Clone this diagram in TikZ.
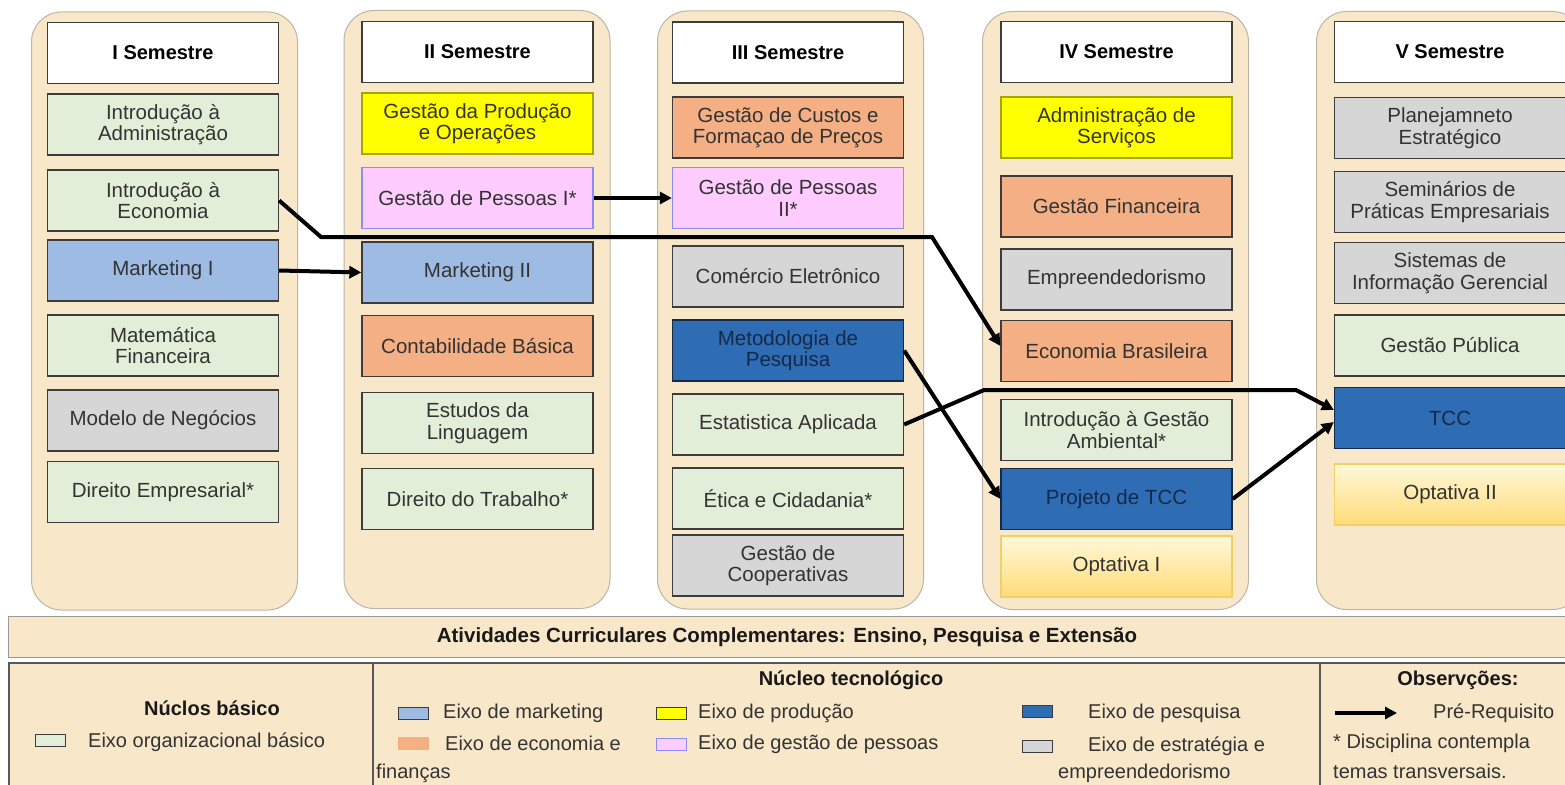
\documentclass[tikz,border=0pt]{standalone}
\usepackage{fontspec}
\setmainfont{Liberation Sans}
\usetikzlibrary{arrows.meta,calc}
\definecolor{beige}{HTML}{F8E8C9}
\definecolor{colborder}{HTML}{BDB5A6}
\definecolor{boxborder}{HTML}{3C3C3C}
\definecolor{txt}{HTML}{333333}
\definecolor{cgreen}{HTML}{E3EED9}
\definecolor{cblue}{HTML}{9DBBE3}
\definecolor{cyellow}{HTML}{FFFF00}
\definecolor{corange}{HTML}{F4B084}
\definecolor{cpink}{HTML}{FFCCFF}
\definecolor{cgray}{HTML}{D6D6D6}
\definecolor{cdblue}{HTML}{2E6DB4}
\definecolor{navy}{HTML}{15294A}
\definecolor{optop}{HTML}{FFF8D8}
\definecolor{opbot}{HTML}{FFDC7A}
\definecolor{opborder}{HTML}{F0D060}
\begin{document}
\begin{tikzpicture}[x=1pt,y=-1pt,
  col/.style={draw=colborder, line width=1pt, fill=beige, rounded corners=30pt, minimum width=266pt, minimum height=598pt, inner sep=0pt},
  cbox/.style={draw=boxborder, line width=1.3pt, minimum width=231pt, minimum height=61pt, inner sep=0pt, align=center, font=\fontsize{20.5}{21.5}\selectfont, text=txt},
  hdr/.style={cbox, fill=white, font=\fontsize{20}{21}\selectfont\bfseries, text=black},
  gr/.style={cbox, fill=cgreen},
  bl/.style={cbox, fill=cblue},
  ye/.style={cbox, fill=cyellow, draw=black!35!cyellow},
  orr/.style={cbox, fill=corange},
  pk/.style={cbox, fill=cpink, draw=black!10!blue!45},
  gy/.style={cbox, fill=cgray},
  db/.style={cbox, fill=cdblue, draw=navy, text=navy},
  op/.style={cbox, top color=optop, bottom color=opbot, draw=opborder},
  pre/.style={line width=4pt, -{Triangle[length=12pt,width=12pt]}, line join=miter},
  leg/.style={font=\fontsize{20}{22}\selectfont, text=txt, inner sep=0pt},
  legb/.style={font=\fontsize{20}{22}\selectfont\bfseries, text=black!90, inner sep=0pt},
  sw/.style={draw=boxborder, line width=1pt, minimum width=30pt, minimum height=12pt, inner sep=0pt}
]
\useasboundingbox (0,0) rectangle (1565,784);
\fill[white] (0,0) rectangle (1565,784);

% columns
\node[col] (c1) at (164.5,311) {};
\node[col] (c2) at (477,309.5) {};
\node[col] (c3) at (790.5,310) {};
\node[col] (c4) at (1115.5,310.5) {};
\node[col] (c5) at (1449.5,310.5) {};

% column I
\node[hdr] (h1) at (163,53) {I Semestre};
\node[gr] (ia) at (163,124.5) {Introdução à\\Administração};
\node[gr] (ie) at (163,200.5) {Introdução à\\Economia};
\node[bl] (m1) at (163,270.5) {Marketing I};
\node[gr] (mf) at (163,345.5) {Matemática\\Financeira};
\node[gy] (mn) at (163,420.5) {Modelo de Negócios};
\node[gr] (de) at (163,492) {Direito Empresarial*};

% column II
\node[hdr] (h2) at (477.5,52) {II Semestre};
\node[ye] (gpo) at (477.5,123.5) {Gestão da Produção\\e Operações};
\node[pk] (gp1) at (477.5,198) {Gestão de Pessoas I*};
\node[bl] (m2) at (477.5,272.5) {Marketing II};
\node[orr] (cb) at (477.5,346) {Contabilidade Básica};
\node[gr] (el) at (477.5,423) {Estudos da\\Linguagem};
\node[gr] (dt) at (477.5,499) {Direito do Trabalho*};

% column III
\node[hdr] (h3) at (788,52.5) {III Semestre};
\node[orr] (gc) at (788,127.5) {Gestão de Custos e\\Formaçao de Preços};
\node[pk] (gp2) at (788,198) {Gestão de Pessoas\\II*};
\node[gy] (ce) at (788,276.5) {Comércio Eletrônico};
\node[db] (met) at (788,350.5) {Metodologia de\\Pesquisa};
\node[gr] (est) at (788,424.5) {Estatistica Aplicada};
\node[gr] (ec) at (788,498.5) {Ética e Cidadania*};
\node[gy] (gco) at (788,565.5) {Gestão de\\Cooperativas};

% column IV
\node[hdr] (h4) at (1116.5,52) {IV Semestre};
\node[ye] (as) at (1116.5,127.5) {Administração de\\Serviços};
\node[orr] (gf) at (1116.5,206.5) {Gestão Financeira};
\node[gy] (emp) at (1116.5,279.5) {Empreendedorismo};
\node[orr] (eb) at (1116.5,351) {Economia Brasileira};
\node[gr] (iga) at (1116.5,430) {Introdução à Gestão\\Ambiental*};
\node[db] (ptcc) at (1116.5,499) {Projeto de TCC};
\node[op] (op1) at (1116.5,566.5) {Optativa I};

% column V
\node[hdr] (h5) at (1450,52) {V Semestre};
\node[gy] (pe) at (1450,128) {Planejamneto\\Estratégico};
\node[gy] (spe) at (1450,202) {Seminários de\\Práticas Empresariais};
\node[gy] (sig) at (1450,273) {Sistemas de\\Informação Gerencial};
\node[gr] (gpu) at (1450,345.5) {Gestão Pública};
\node[db] (tcc) at (1450,418) {TCC};
\node[op] (op2) at (1450,494.5) {Optativa II};

% prerequisite arrows
\draw[pre] (ie.east) -- (321,237) -- (932,237) -- ($(eb.west)+(0,-5)$);
\draw[pre] (m1.east) -- (m2.west);
\draw[pre] (gp1.east) -- (gp2.west);
\draw[pre] (met.east) -- (ptcc.west);
\draw[pre] (est.east) -- (984,390) -- (1296,390) -- ($(tcc.west)+(0,-8)$);
\draw[pre] (ptcc.east) -- ($(tcc.west)+(0,4)$);

% band
\node[draw=black!40, line width=1pt, fill=beige, minimum width=1572pt, minimum height=41pt, inner sep=0pt, anchor=north west] (band) at (8,616) {};
\node[legb, font=\fontsize{20.5}{22}\selectfont\bfseries] (bandt) at (787,637) {Atividades Curriculares Complementares: Ensino, Pesquisa e Extensão};

% legend table
\node[draw=black!65, line width=1.5pt, fill=beige, minimum width=1572pt, minimum height=130pt, inner sep=0pt, anchor=north west] (tab) at (8,662) {};
\coordinate (s1t) at (373,662);
\coordinate (s1b) at (373,790);
\coordinate (s2t) at (1320,662);
\coordinate (s2b) at (1320,790);
\draw[black!65, line width=1.5pt] (s1t) -- (s1b);
\draw[black!65, line width=1.5pt] (s2t) -- (s2b);

\node[legb] (nb) at (212,708) {Núclos básico};
\node[sw, fill=cgreen] (swg) at (50,740.5) {};
\node[leg, anchor=west] (lg) at (88,742) {Eixo organizacional básico};

\node[legb] (nt) at (851,680) {Núcleo tecnológico};
\node[sw, fill=cblue] (swb) at (413,713) {};
\node[leg, anchor=west] (lb) at (443,713) {Eixo de marketing};
\node[sw, fill=cyellow] (swy) at (671.5,713) {};
\node[leg, anchor=west] (ly) at (698,713) {Eixo de produção};
\node[sw, fill=cdblue] (swd) at (1037,711) {};
\node[leg, anchor=west] (ld) at (1088,713) {Eixo de pesquisa};
\node[sw, fill=corange, draw=corange] (swo) at (413,743) {};
\node[leg, anchor=west] (lo) at (445,743) {Eixo de economia e};
\node[leg, anchor=west] (lo2) at (376,773) {finanças};
\node[sw, fill=cpink, draw=black!10!blue!45] (swp) at (671.5,744) {};
\node[leg, anchor=west] (lp) at (698,744) {Eixo de gestão de pessoas};
\node[sw, fill=cgray] (swgy) at (1037,746) {};
\node[leg, anchor=west] (lgy) at (1088,746) {Eixo de estratégia e};
\node[leg, anchor=west] (lgy2) at (1058,773) {empreendedorismo};

\node[legb] (ob) at (1458,680) {Observções:};
\coordinate (la1) at (1335,713);
\coordinate (la2) at (1397,713);
\draw[pre] (la1) -- (la2);
\node[leg, anchor=west] (lpr) at (1433,713) {Pré-Requisito};
\node[leg, anchor=west] (ld1) at (1333,743) {* Disciplina contempla};
\node[leg, anchor=west] (ld2) at (1333,771) {temas transversais.};
\end{tikzpicture}
\end{document}
